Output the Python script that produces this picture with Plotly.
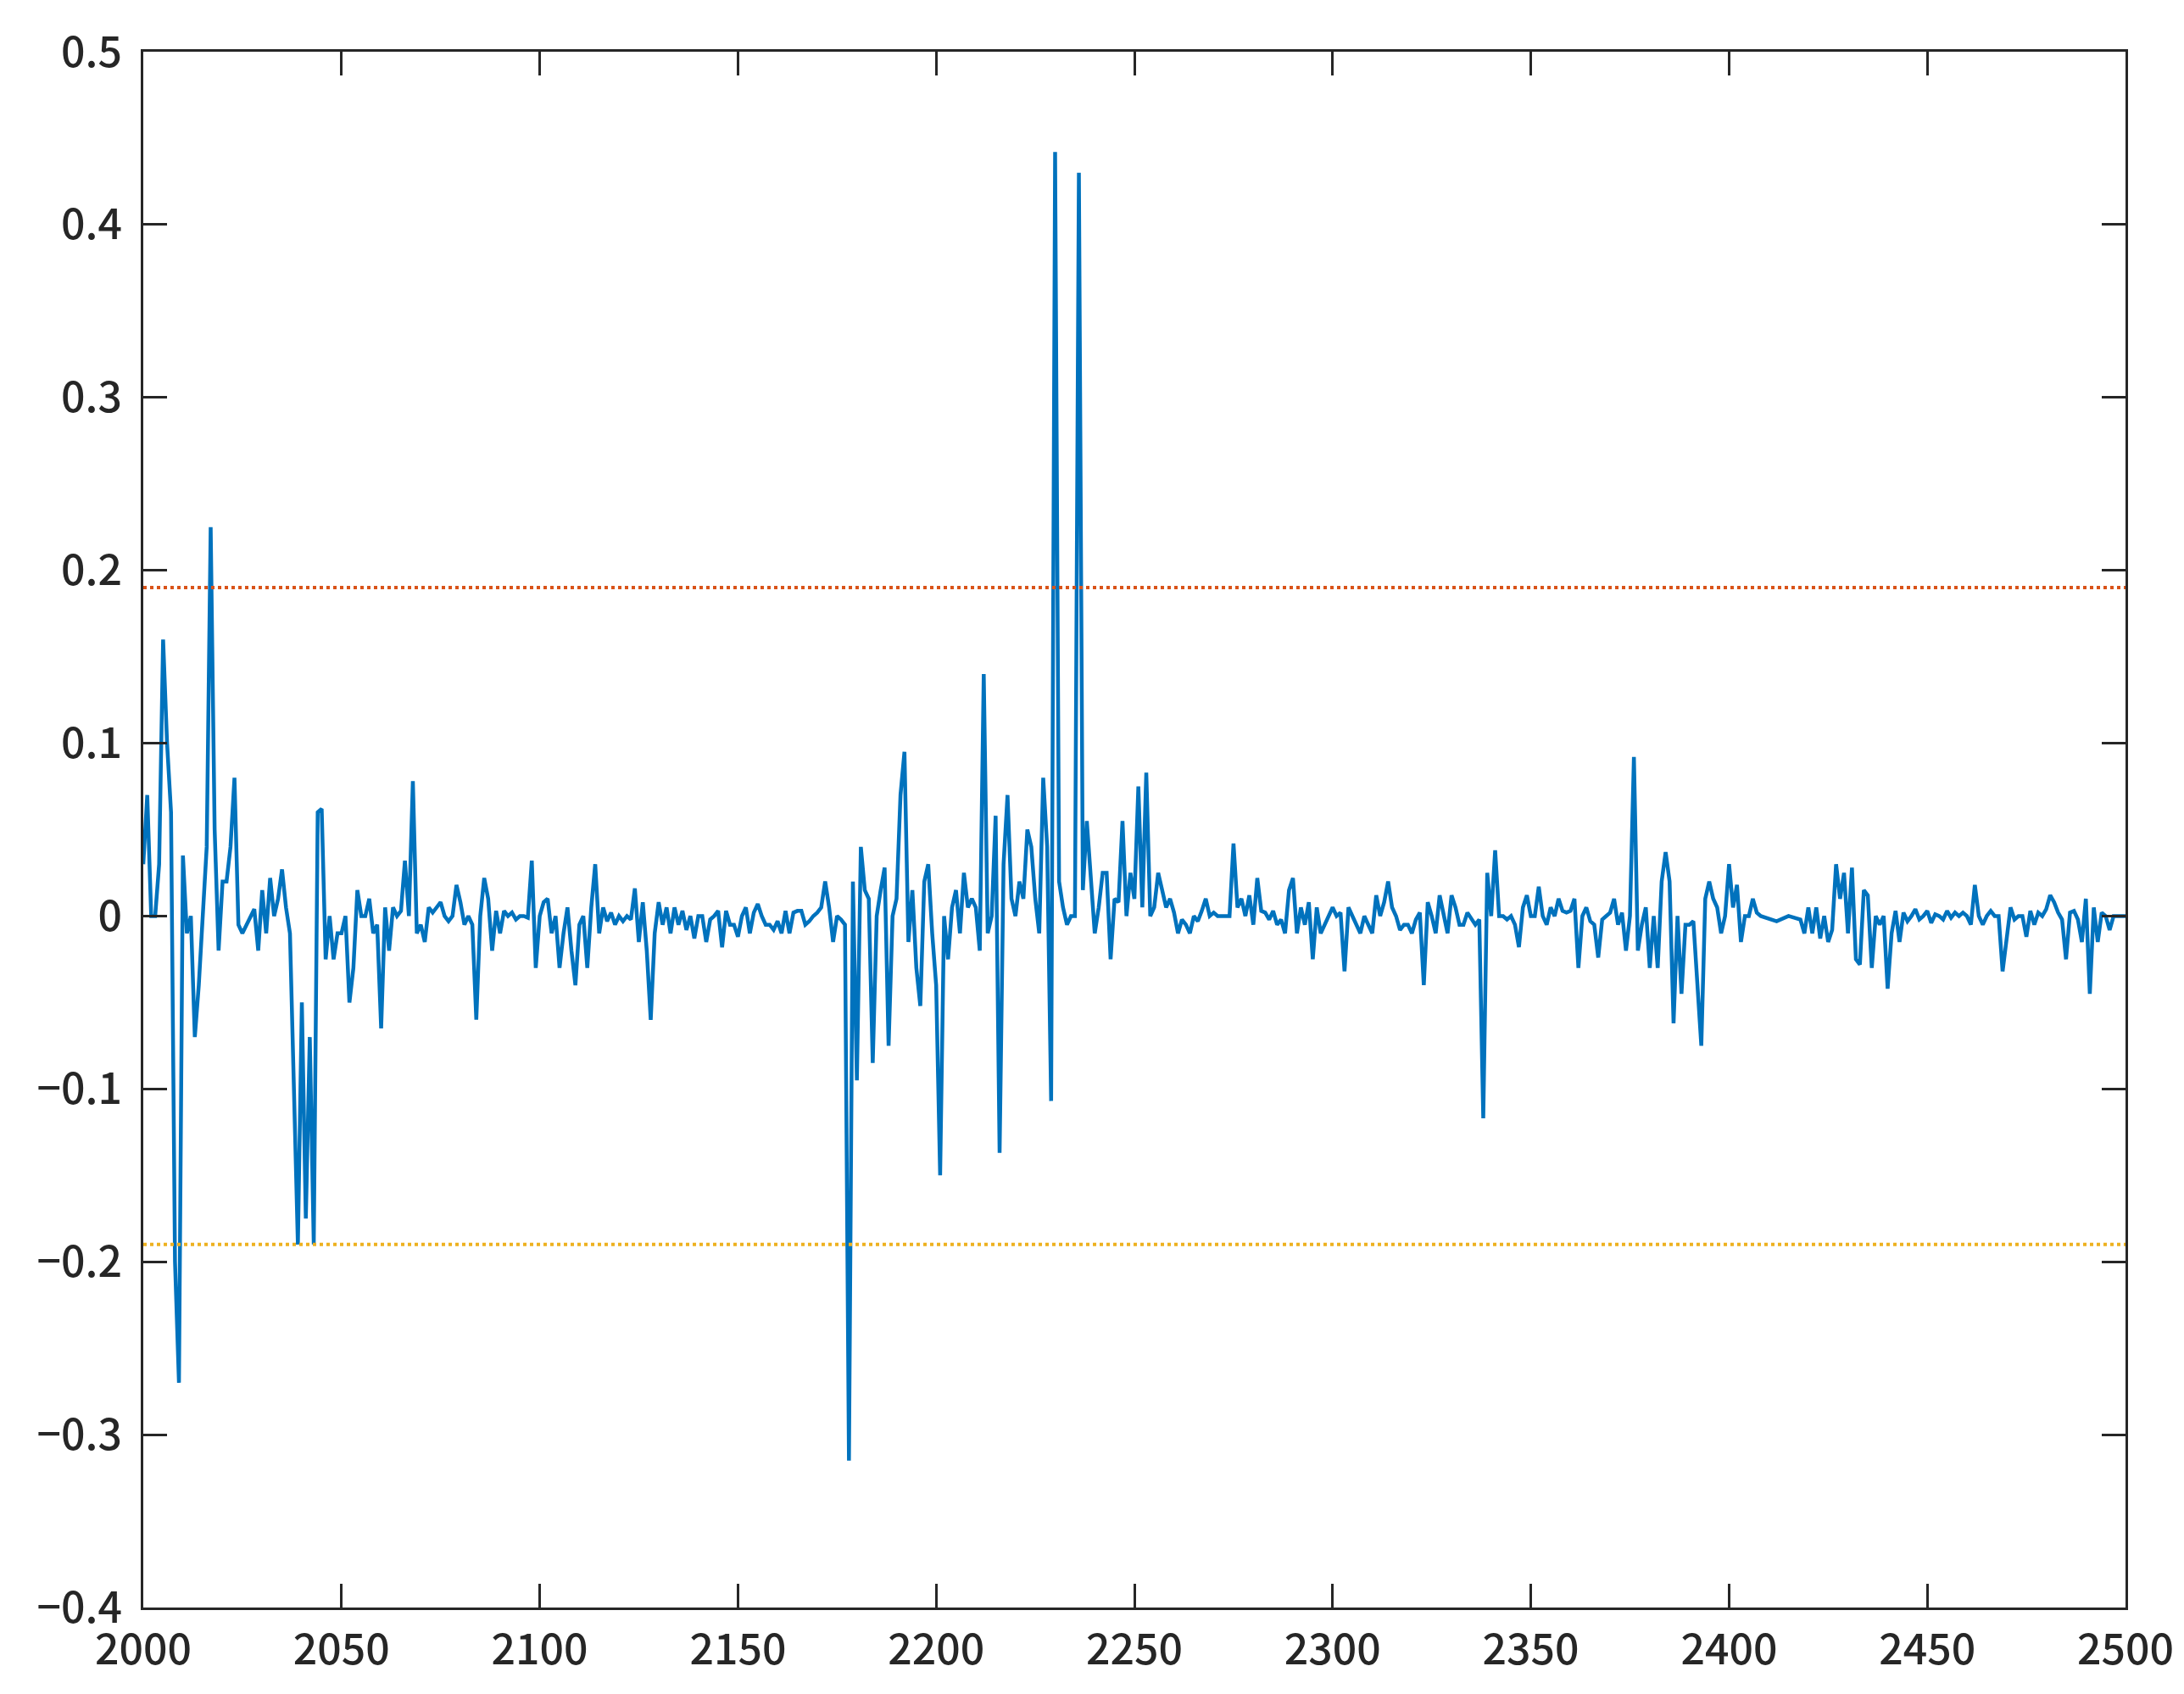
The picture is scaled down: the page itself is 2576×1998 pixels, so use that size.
import plotly.graph_objects as go

# sample index and value
x_vals = list(range(2000, 2133)) + list(range(2133, 2171)) + list(range(2171, 2409)) + [2412, 2415, 2418] + list(range(2419, 2500)) + [2500]

y_vals = [
    # 2000-2059
    0.03, 0.07, 0.0, 0.0, 0.03, 0.16, 0.10, 0.06, -0.20, -0.27,
    0.035, -0.01, 0.0, -0.07, -0.04, 0.0, 0.04, 0.225, 0.05, -0.02,
    0.02, 0.02, 0.04, 0.08, -0.005, -0.01, -0.005, 0.0, 0.004, -0.02,
    0.015, -0.01, 0.022, 0.0, 0.01, 0.027, 0.005, -0.01, -0.10, -0.19,
    -0.05, -0.175, -0.07, -0.19, 0.06, 0.062, -0.025, 0.0, -0.025, -0.01,
    -0.01, 0.0, -0.05, -0.03, 0.015, 0.0, 0.0, 0.01, -0.01, -0.005,
    # 2060-2099
    -0.065, 0.005, -0.02, 0.005, 0.0, 0.003, 0.032, 0.0, 0.078, -0.01,
    -0.005, -0.015, 0.005, 0.002, 0.005, 0.008, 0.0, -0.003, 0.0, 0.018,
    0.008, -0.005, 0.0, -0.005, -0.06, 0.0, 0.022, 0.01, -0.02, 0.003,
    -0.01, 0.003, 0.0, 0.002, -0.002, 0.0, 0.0, -0.001, 0.032, -0.03,
    # 2100-2132
    0.0, 0.008, 0.01, -0.01, 0.0, -0.03, -0.01, 0.005, -0.02, -0.04,
    -0.005, 0.0, -0.03, 0.005, 0.03, -0.01, 0.005, -0.003, 0.002, -0.005,
    0.0, -0.003, 0.0, -0.002, 0.016, -0.015, 0.008, -0.02, -0.06, -0.01,
    0.008, -0.005, 0.005,
    # 2133-2170
    -0.01, 0.005, -0.005, 0.003, -0.008, 0.0, -0.013, 0.0, 0.0, -0.015,
    -0.002, 0.0, 0.003, -0.018, 0.003, -0.005, -0.005, -0.012, 0.0, 0.005,
    -0.01, 0.002, 0.007, 0.0, -0.005, -0.005, -0.008, -0.003, -0.01, 0.003,
    -0.01, 0.002, 0.003, 0.003, -0.005, -0.003, 0.0, 0.002,
    # 2171-2230
    0.005, 0.02, 0.005, -0.015, 0.0, -0.002, -0.005, -0.315, 0.02, -0.095,
    0.04, 0.015, 0.01, -0.085, 0.0, 0.015, 0.028, -0.075, 0.0, 0.01,
    0.07, 0.095, -0.015, 0.015, -0.03, -0.052, 0.02, 0.03, -0.01, -0.04,
    -0.15, 0.0, -0.025, 0.005, 0.015, -0.01, 0.025, 0.005, 0.01, 0.005,
    -0.02, 0.14, -0.01, 0.0, 0.058, -0.137, 0.03, 0.07, 0.01, 0.0,
    0.02, 0.01, 0.05, 0.04, 0.01, -0.01, 0.08, 0.04, -0.107, 0.442,
    # 2231-2290
    0.02, 0.005, -0.005, 0.0, 0.0, 0.43, 0.015, 0.055, 0.02, -0.01,
    0.005, 0.025, 0.025, -0.025, 0.01, 0.008, 0.055, 0.0, 0.025, 0.01,
    0.075, 0.005, 0.083, 0.0, 0.005, 0.025, 0.015, 0.005, 0.01, 0.002,
    -0.01, -0.002, -0.005, -0.01, 0.0, -0.003, 0.003, 0.01, 0.0, 0.002,
    0.0, 0.0, 0.0, 0.0, 0.042, 0.005, 0.01, 0.0, 0.012, -0.005,
    0.022, 0.003, 0.002, -0.002, 0.003, -0.005, -0.002, -0.01, 0.015, 0.022,
    # 2291-2350
    -0.01, 0.005, -0.005, 0.008, -0.025, 0.005, -0.01, -0.005, 0.0, 0.005,
    0.0, 0.002, -0.032, 0.005, 0.0, -0.005, -0.01, 0.0, -0.005, -0.01,
    0.012, 0.0, 0.008, 0.02, 0.005, 0.0, -0.008, -0.005, -0.005, -0.01,
    -0.002, 0.002, -0.04, 0.008, 0.0, -0.01, 0.012, 0.002, -0.01, 0.012,
    0.005, -0.005, -0.005, 0.002, -0.002, -0.005, -0.002, -0.117, 0.025, 0.0,
    0.038, 0.0, 0.0, -0.002, 0.0, -0.005, -0.018, 0.005, 0.012, 0.0,
    # 2351-2408
    0.0, 0.017, 0.0, -0.005, 0.005, 0.0, 0.01, 0.003, 0.002, 0.003,
    0.01, -0.03, 0.0, 0.005, -0.003, -0.005, -0.024, -0.002, 0.0, 0.002,
    0.01, -0.005, 0.002, -0.02, 0.0, 0.092, -0.02, -0.005, 0.005, -0.03,
    0.0, -0.03, 0.02, 0.037, 0.02, -0.062, 0.0, -0.045, -0.005, -0.005,
    -0.003, -0.04, -0.075, 0.01, 0.02, 0.01, 0.005, -0.01, 0.0, 0.03,
    0.005, 0.018, -0.015, 0.0, 0.0, 0.01, 0.002, 0.0,
    # 2412, 2415, 2418
    -0.003, 0.0, -0.002,
    # 2419-2499
    -0.01, 0.005, -0.01, 0.005, -0.013, 0.0, -0.015, -0.008, 0.03, 0.01,
    0.025, -0.01, 0.028, -0.025, -0.028, 0.015, 0.012, -0.03, 0.0, -0.005,
    0.0, -0.042, -0.01, 0.003, -0.015, 0.002, -0.003, 0.0, 0.004, -0.002,
    0.0, 0.003, -0.004, 0.001, 0.0, -0.002, 0.003, -0.001, 0.002, 0.0,
    0.002, 0.0, -0.005, 0.018, 0.0, -0.005, 0.0, 0.003, 0.0, 0.0,
    -0.032, -0.015, 0.005, -0.002, 0.0, 0.0, -0.012, 0.003, -0.005, 0.002,
    0.0, 0.004, 0.012, 0.008, 0.002, -0.002, -0.025, 0.002, 0.003, -0.002,
    -0.015, 0.01, -0.045, 0.005, -0.015, 0.002, 0.0, -0.008, 0.0, 0.0,
    0.0,
    # 2500
    0.0,
]

upper = 0.19
lower = -0.19
x_ticks = [2000, 2050, 2100, 2150, 2200, 2250, 2300, 2350, 2400, 2450, 2500]
y_ticks = [-0.4, -0.3, -0.2, -0.1, 0, 0.1, 0.2, 0.3, 0.4, 0.5]

fig = go.Figure()
fig.add_trace(go.Scatter(x=x_vals, y=y_vals, mode="lines",
                         line=dict(color="#0072BD", width=4.5)))
fig.add_trace(go.Scatter(x=[2000, 2500], y=[upper, upper], mode="lines",
                         line=dict(color="#D95319", width=4, dash="dot")))
fig.add_trace(go.Scatter(x=[2000, 2500], y=[lower, lower], mode="lines",
                         line=dict(color="#EDB120", width=4, dash="dot")))

axis = dict(showgrid=False, zeroline=False, showline=True, linecolor="#262626",
            linewidth=3, mirror="ticks", ticks="inside", ticklen=28, tickwidth=3,
            tickcolor="#262626",
            tickfont=dict(size=50, color="#262626", weight=500))
fig.update_xaxes(range=[2000, 2500], tickvals=x_ticks, ticklabelstandoff=4, **axis)
fig.update_yaxes(range=[-0.4, 0.5], tickvals=y_ticks, ticklabelstandoff=12,
                 ticktext=["\u22120.4", "\u22120.3", "\u22120.2", "\u22120.1", "0",
                           "0.1", "0.2", "0.3", "0.4", "0.5"], **axis)
fig.update_layout(width=2576, height=1998, showlegend=False,
                  paper_bgcolor="white", plot_bgcolor="white",
                  font=dict(family="Noto Sans CJK JP"),
                  margin=dict(l=161, r=77, t=44, b=110))
fig.write_html("out.html")
